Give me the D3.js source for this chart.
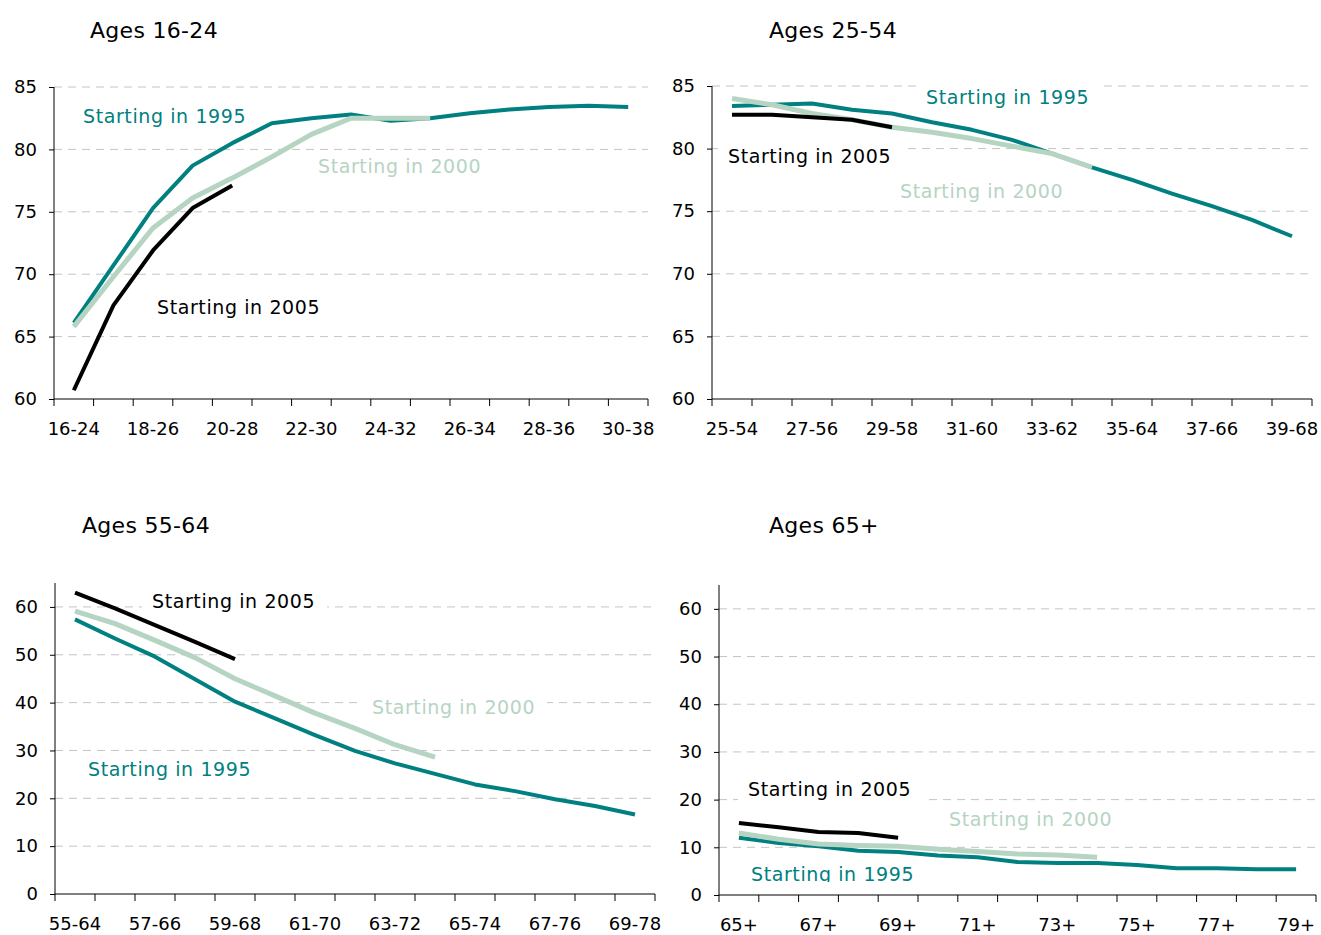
<!DOCTYPE html>
<html>
<head>
<meta charset="utf-8">
<script src="https://cdn.jsdelivr.net/npm/d3@7"></script>
<style>
  body { margin: 0; background: #fff; }
  svg text { font-family: 'DejaVu Sans', sans-serif; }
</style>
</head>
<body>
<div id="chart"></div>
<script>
'use strict';

// categories (age group of the cohort, one per year 1995..2009)
var cats1624 = ['16-24', '17-25', '18-26', '19-27', '20-28', '21-29', '22-30', '23-31', '24-32', '25-33', '26-34', '27-35', '28-36', '29-37', '30-38'];
var cats2554 = ['25-54', '26-55', '27-56', '28-57', '29-58', '30-59', '31-60', '32-61', '33-62', '34-63', '35-64', '36-65', '37-66', '38-67', '39-68'];
var cats5564 = ['55-64', '56-65', '57-66', '58-67', '59-68', '60-69', '61-70', '62-71', '63-72', '64-73', '65-74', '66-75', '67-76', '68-77', '69-78'];
var cats65 = ['65+', '66+', '67+', '68+', '69+', '70+', '71+', '72+', '73+', '74+', '75+', '76+', '77+', '78+', '79+'];

// participation rates
var a1624_1995 = [66.1, 70.7, 75.3, 78.7, 80.5, 82.1, 82.5, 82.8, 82.3, 82.5, 82.9, 83.2, 83.4, 83.5, 83.4];
var a1624_2000 = [65.8, 69.8, 73.7, 76.1, 77.7, 79.4, 81.2, 82.5, 82.5, 82.5];
var a1624_2005 = [60.7, 67.5, 71.9, 75.3, 77.1];

var a2554_1995 = [83.4, 83.5, 83.6, 83.1, 82.8, 82.1, 81.5, 80.7, 79.6, 78.5, 77.5, 76.4, 75.4, 74.3, 73.0];
var a2554_2000 = [84.0, 83.5, 82.8, 82.3, 81.7, 81.3, 80.8, 80.2, 79.6, 78.5];
var a2554_2005 = [82.7, 82.7, 82.5, 82.3, 81.7];

var a5564_1995 = [57.4, 53.4, 49.6, 44.9, 40.2, 36.7, 33.2, 29.9, 27.3, 25.1, 22.9, 21.5, 19.8, 18.4, 16.6];
var a5564_2000 = [59.1, 56.5, 53.0, 49.4, 45.0, 41.4, 37.8, 34.6, 31.2, 28.6];
var a5564_2005 = [63.0, 59.7, 56.2, 52.7, 49.1];

var a65_1995 = [12.0, 10.9, 10.2, 9.3, 9.0, 8.3, 7.9, 6.9, 6.7, 6.7, 6.3, 5.6, 5.6, 5.4, 5.4];
var a65_2000 = [13.0, 11.7, 10.7, 10.4, 10.2, 9.6, 9.1, 8.6, 8.4, 7.9];
var a65_2005 = [15.1, 14.2, 13.2, 13.0, 12.0];

var seriesNames = ['Starting in 1995', 'Starting in 2000', 'Starting in 2005'];
var colors = ['#008080', '#b6d4c2', '#000000'];
var widths = [4, 5, 4];

var width = 1321, height = 935;

var panels = [
    {
        title: 'Ages 16-24', cats: cats1624, series: [a1624_1995, a1624_2000, a1624_2005],
        domain: [60, 85], ticks: [60, 65, 70, 75, 80, 85],
        x: [54, 648], y: [399, 87], titlePos: [90, 38],
        labels: [[83, 123], [318, 173], [157, 314]]
    },
    {
        title: 'Ages 25-54', cats: cats2554, series: [a2554_1995, a2554_2000, a2554_2005],
        domain: [60, 85], ticks: [60, 65, 70, 75, 80, 85],
        x: [712, 1312], y: [399, 86], titlePos: [769, 38],
        labels: [[926, 104], [900, 198], [728, 163]]
    },
    {
        title: 'Ages 55-64', cats: cats5564, series: [a5564_1995, a5564_2000, a5564_2005],
        domain: [0, 65], ticks: [0, 10, 20, 30, 40, 50, 60],
        x: [55, 655], y: [894, 583], titlePos: [82, 533],
        labels: [[88, 776], [372, 714], [152, 608]]
    },
    {
        title: 'Ages 65+', cats: cats65, series: [a65_1995, a65_2000, a65_2005],
        domain: [0, 65], ticks: [0, 10, 20, 30, 40, 50, 60],
        x: [719, 1316], y: [895, 585], titlePos: [769, 533],
        labels: [[751, 881], [949, 826], [748, 796]]
    }
];

var svg = d3.select('#chart').append('svg')
    .attr('width', width)
    .attr('height', height);

svg.append('defs').append('clipPath').attr('id', 'clipBottom')
    .append('rect').attr('x', 0).attr('y', 0).attr('width', width).attr('height', 882);

panels.forEach(function(p) {
    var g = svg.append('g');

    var x = d3.scaleBand().domain(p.cats).range(p.x);
    var y = d3.scaleLinear().domain(p.domain).range(p.y);

    // grid lines
    g.selectAll('line.grid')
        .data(p.ticks.slice(1))
        .enter().append('line')
        .attr('class', 'grid')
        .attr('x1', p.x[0])
        .attr('x2', p.x[1])
        .attr('y1', function(d) { return y(d); })
        .attr('y2', function(d) { return y(d); })
        .style('stroke', '#c4c4c4')
        .style('stroke-width', 1)
        .style('stroke-dasharray', '8,6');

    // label backgrounds hide the grid behind them
    var labelLayer = g.append('g');

    // lines
    p.series.forEach(function(vals, s) {
        var line = d3.line()
            .x(function(d, i) { return x(p.cats[i]) + x.bandwidth() / 2; })
            .y(function(d) { return y(d); });
        g.append('path')
            .datum(vals)
            .attr('d', line)
            .style('fill', 'none')
            .style('stroke', colors[s])
            .style('stroke-width', widths[s])
            .style('stroke-linejoin', 'round');
    });

    // y axis
    var yAxis = d3.axisLeft(y).tickValues(p.ticks).tickSize(5).tickPadding(12);
    var ya = g.append('g')
        .attr('transform', 'translate(' + p.x[0] + ',0)')
        .call(yAxis);
    ya.select('.domain').attr('d', 'M0,' + p.y[1] + 'V' + p.y[0]);

    // x axis, ticks at the band edges
    var edges = p.cats.map(function(c) { return x(c); }).concat([p.x[1]]);
    g.append('line')
        .attr('x1', p.x[0]).attr('x2', p.x[1])
        .attr('y1', p.y[0]).attr('y2', p.y[0])
        .style('stroke', '#000').style('stroke-width', 1);
    g.selectAll('line.xtick')
        .data(edges)
        .enter().append('line')
        .attr('class', 'xtick')
        .attr('x1', function(d) { return d; })
        .attr('x2', function(d) { return d; })
        .attr('y1', p.y[0])
        .attr('y2', p.y[0] + 7)
        .style('stroke', '#000');
    g.selectAll('text.xlab')
        .data(p.cats.filter(function(c, i) { return i % 2 === 0; }))
        .enter().append('text')
        .attr('class', 'xlab')
        .attr('x', function(d) { return x(d) + x.bandwidth() / 2; })
        .attr('y', p.y[0] + 36)
        .attr('text-anchor', 'middle')
        .style('font-size', '18px')
        .style('fill', '#000')
        .text(function(d) { return d; });

    ya.selectAll('text').style('font-size', '18px').style('fill', '#000');
    ya.selectAll('line').style('stroke', '#000');
    ya.select('.domain').style('stroke', '#000');

    // title
    g.append('text')
        .attr('x', p.titlePos[0])
        .attr('y', p.titlePos[1])
        .style('font-size', '22px')
        .style('letter-spacing', '0.3px')
        .style('fill', '#000')
        .text(p.title);

    // series labels
    p.labels.forEach(function(pos, s) {
        var t = labelLayer.append('text')
            .attr('x', pos[0])
            .attr('y', pos[1])
            .style('font-size', '19px')
            .style('letter-spacing', '0.6px')
            .style('fill', colors[s])
            .text(seriesNames[s]);
        if (p.title === 'Ages 65+' && s === 0) {
            t.attr('clip-path', 'url(#clipBottom)');
        }
        var bb = t.node().getBBox();
        labelLayer.insert('rect', 'text')
            .attr('x', bb.x - 10)
            .attr('y', bb.y - 2)
            .attr('width', bb.width + 22)
            .attr('height', bb.height + 4)
            .style('fill', '#fff');
    });
});
</script>
</body>
</html>
